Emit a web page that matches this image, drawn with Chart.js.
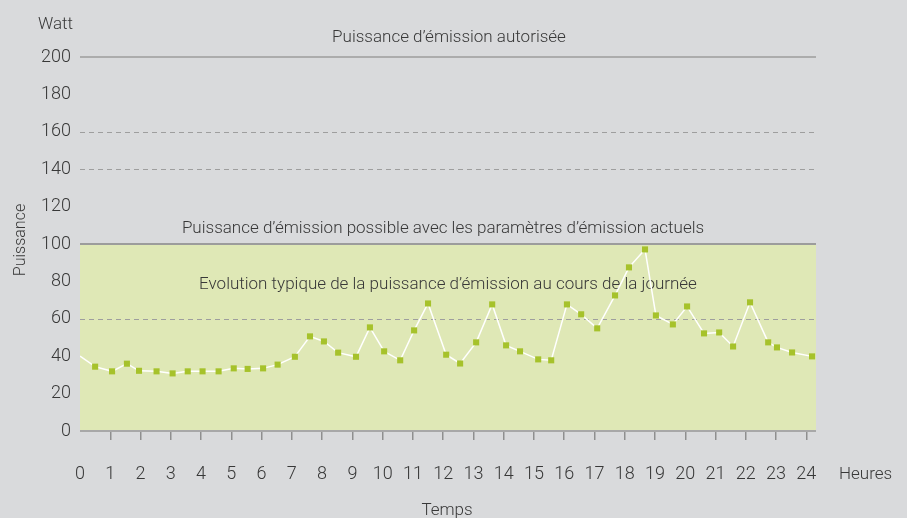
<!DOCTYPE html>
<html>
<head>
<meta charset="utf-8">
<script src="https://cdn.jsdelivr.net/npm/chart.js@4.4.0/dist/chart.umd.min.js"></script>
<style>
  html, body { margin: 0; padding: 0; background: #d9dadc; }
</style>
</head>
<body>
<canvas id="powerChart" width="907" height="518"></canvas>
<script>
// hour of each marker and power in watt
const hours = [0, 0.5, 1.06, 1.55, 1.95, 2.53, 3.06, 3.56, 4.05, 4.58, 5.08, 5.54, 6.05, 6.53, 7.1,
    7.6, 8.06, 8.53, 9.12, 9.58, 10.05, 10.58, 11.04, 11.5, 12.1, 12.56, 13.09, 13.62, 14.08, 14.54,
    15.14, 15.57, 16.09, 16.56, 17.09, 17.68, 18.14, 18.67, 19.03, 19.59, 20.06, 20.62, 21.12, 21.58,
    22.14, 22.74, 23.03, 23.53, 24.19];
const watts = [40, 34.4, 31.9, 36, 32.2, 31.9, 30.8, 31.9, 31.9, 31.9, 33.5, 33.2, 33.5, 35.5, 39.7,
    50.6, 47.9, 41.9, 39.7, 55.4, 42.6, 37.8, 53.8, 68.2, 40.8, 36.1, 47.4, 67.7, 45.8, 42.6,
    38.3, 37.8, 67.7, 62.4, 54.9, 72.5, 87.5, 97.1, 61.8, 57, 66.6, 52.2, 52.7, 45.2,
    68.8, 47.4, 44.7, 42, 39.9];

const authorisedLevel = 200;
const possibleLevel = 100;
const solidLevels = [200, 100];
const dashedLevels = [160, 140, 60];

const titleAuthorised = 'Puissance d\u2019émission autorisée';
const titlePossible = 'Puissance d\u2019émission possible avec les paramètres d\u2019émission actuels';
const titleTypical = 'Evolution typique de la puissance d\u2019émission au cours de la journée';

const FONT = 'Roboto, "Liberation Sans", sans-serif';
const TEXT = '#383838';

const backdrop = {
    id: 'backdrop',
    beforeDatasetsDraw(chart) {
        const { ctx, chartArea: a, scales: { x, y } } = chart;
        ctx.save();

        // zone reachable with the current settings
        const top = y.getPixelForValue(possibleLevel);
        const bottom = y.getPixelForValue(0);
        ctx.fillStyle = '#dfe8b6';
        ctx.fillRect(a.left, top, a.right - a.left, bottom - top);

        ctx.strokeStyle = '#9e9e9e';
        ctx.lineWidth = 1;
        ctx.setLineDash([5, 4]);
        dashedLevels.forEach(v => {
            const py = Math.round(y.getPixelForValue(v)) + 0.5;
            ctx.beginPath();
            ctx.moveTo(a.left, py);
            ctx.lineTo(a.right, py);
            ctx.stroke();
        });

        ctx.setLineDash([]);
        ctx.strokeStyle = '#9c9c9c';
        solidLevels.forEach(v => {
            const py = y.getPixelForValue(v);
            ctx.lineWidth = v === possibleLevel ? 2 : 1.5;
            ctx.beginPath();
            ctx.moveTo(a.left, py);
            ctx.lineTo(a.right, py);
            ctx.stroke();
        });

        // base line
        ctx.strokeStyle = '#a8a8a8';
        ctx.lineWidth = 2;
        ctx.beginPath();
        ctx.moveTo(a.left, bottom);
        ctx.lineTo(a.right, bottom);
        ctx.stroke();

        ctx.fillStyle = TEXT;
        ctx.font = '300 17px ' + FONT;
        ctx.textBaseline = 'alphabetic';
        ctx.textAlign = 'center';
        ctx.fillText(titleAuthorised, 449, 42);
        ctx.fillText(titlePossible, 443, 233);
        ctx.fillText(titleTypical, 448, 289);

        ctx.textAlign = 'right';
        ctx.fillText('Watt', 73, 29);

        ctx.textAlign = 'left';
        ctx.fillText('Heures', 839, 479);

        ctx.textAlign = 'center';
        ctx.fillText('Temps', 447, 515);

        ctx.save();
        ctx.translate(25, 240);
        ctx.rotate(-Math.PI / 2);
        ctx.font = '300 16px ' + FONT;
        ctx.fillText('Puissance', 0, 0);
        ctx.restore();

        ctx.restore();
    }
};

const ctx = document.getElementById('powerChart').getContext('2d');
new Chart(ctx, {
    type: 'line',
    data: {
        datasets: [{
            label: 'Puissance',
            data: hours.map((h, i) => ({ x: h, y: watts[i] })),
            borderColor: '#ffffff',
            borderWidth: 1.5,
            tension: 0,
            pointStyle: 'rect',
            pointRadius: c => c.dataIndex === 0 ? 0 : 4.3,
            pointBorderWidth: 0,
            pointBackgroundColor: '#a6c22b'
        }]
    },
    options: {
        responsive: false,
        animation: false,
        layout: { padding: { top: 57, right: 91, left: 0, bottom: 0 } },
        plugins: {
            legend: { display: false },
            tooltip: { enabled: false }
        },
        scales: {
            x: {
                type: 'linear',
                min: 0,
                max: 24.32,
                afterFit: s => { s.height = 87; },
                border: { display: false },
                grid: {
                    drawOnChartArea: false,
                    tickLength: 9,
                    lineWidth: 1.5,
                    color: c => c.tick && c.tick.value === 0 ? 'rgba(0,0,0,0)' : '#8f8f8f'
                },
                ticks: {
                    stepSize: 1,
                    includeBounds: false,
                    autoSkip: false,
                    maxRotation: 0,
                    padding: 24,
                    color: TEXT,
                    font: { family: FONT, size: 18, weight: '300' }
                }
            },
            y: {
                min: 0,
                max: authorisedLevel,
                afterFit: s => { s.width = 80; },
                border: { display: false },
                grid: { display: false, drawTicks: false },
                ticks: {
                    stepSize: 20,
                    padding: 9,
                    color: TEXT,
                    font: { family: FONT, size: 18, weight: '300' }
                }
            }
        }
    },
    plugins: [backdrop]
});
</script>
</body>
</html>
